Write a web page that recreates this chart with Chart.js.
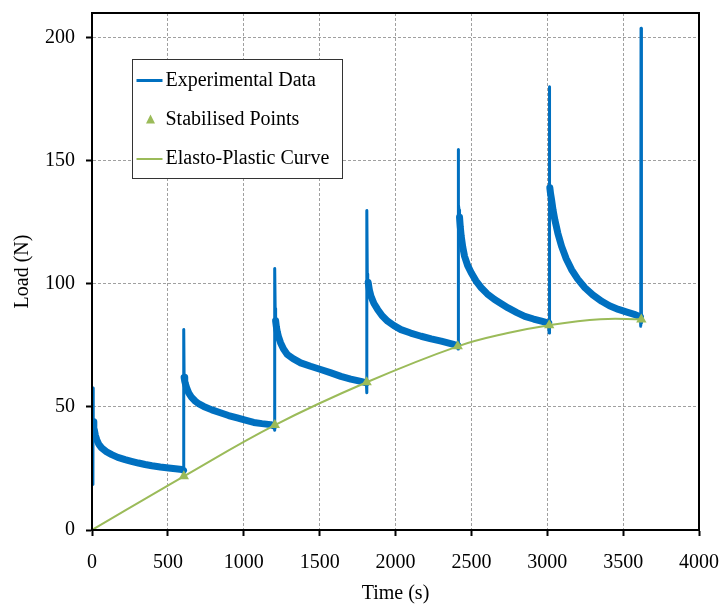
<!DOCTYPE html>
<html><head><meta charset="utf-8">
<script src="https://cdn.jsdelivr.net/npm/chart.js@4.4.1/dist/chart.umd.min.js"></script>
<style>html,body{margin:0;padding:0;background:#fff;}canvas{display:block;}</style>
</head><body>
<canvas id="c" width="720" height="606"></canvas>
<script>
// ---- data ----
const xTicks = [0, 500, 1000, 1500, 2000, 2500, 3000, 3500, 4000];
const yTicks = [0, 50, 100, 150, 200];

const expTime = [
  6, 7, 8, 12, 15, 22, 31, 45, 64, 95, 130, 170, 218, 260, 306, 350, 395, 450, 505, 550, 593, 603,
  604, 605, 607, 611, 615, 625, 637, 655, 681, 705, 736, 790, 846, 900, 957, 1010, 1066, 1120, 1177, 1200,
  1203, 1205, 1207, 1210, 1215, 1221, 1230, 1243, 1262, 1287, 1325, 1375, 1440, 1507, 1575, 1640, 1705, 1772, 1808,
  1810, 1812, 1814, 1817, 1820, 1828, 1838, 1858, 1882, 1912, 1948, 1990, 2036, 2100, 2169, 2235, 2301, 2345, 2389, 2410,
  2412, 2413, 2416, 2419, 2422, 2427, 2433, 2443, 2455, 2475, 2499, 2530, 2565, 2605, 2653, 2700, 2742, 2800, 2852, 2910, 2962, 3010,
  3012, 3013, 3015, 3017, 3022, 3028, 3038, 3050, 3070, 3094, 3125, 3160, 3200, 3248, 3300, 3359, 3410, 3469, 3525, 3579, 3614,
  3616, 3618, 3619, 3621, 3622
];
const expLoad = [
  18.5, 57.7, 44, 42, 40.8, 38.5, 36.7, 34.8, 33.3, 31.8, 30.6, 29.5, 28.6, 27.9, 27.2, 26.6, 26.1, 25.6, 25.2, 24.9, 24.6, 24.2,
  23, 81.4, 62, 60.5, 59.5, 57.5, 55.7, 54, 52.3, 51.2, 50.2, 48.8, 47.6, 46.5, 45.5, 44.6, 43.7, 43.2, 42.8, 42.3,
  40.5, 106.2, 90, 85, 82.5, 80.5, 78.3, 76, 73.5, 71.3, 69.6, 67.9, 66.5, 65.2, 63.8, 62.4, 61.3, 60.4, 59.8,
  55.7, 129.8, 104, 102, 100.5, 97.5, 95, 92, 89.6, 87, 84.8, 83, 81.4, 80, 78.7, 77.6, 76.7, 76, 75.3, 75,
  73.5, 154.6, 132, 130, 127, 123, 119.3, 115, 111.2, 107.5, 104.5, 101.2, 98.4, 95.9, 93.6, 91.8, 90.2, 88.3, 86.8, 85.7, 84.8, 84,
  80, 180, 145, 139, 136.5, 134.3, 130, 126, 120.5, 115.3, 110.2, 105.8, 102, 98.4, 95.5, 92.9, 91.1, 89.6, 88.5, 87.5, 86.5,
  82.8, 203.8, 84, 171, 111
];

const stabTime = [605, 1205, 1810, 2410, 3013, 3620];
const stabLoad = [21.8, 42.6, 60, 74.6, 83.2, 85.5];

const curveTime = [0, 605, 1205, 1810, 2410, 2740, 3013, 3350, 3620];
const curveLoad = [0, 21.8, 42.6, 60, 74.6, 80, 83.2, 85.6, 85.6];

const seriesNames = ['Experimental Data', 'Stabilised Points', 'Elasto-Plastic Curve'];
const BLUE = '#0070C0', GREEN = '#9BBB59';

const toXY = (xs, ys) => xs.map((x, i) => ({x: x, y: ys[i]}));

Chart.defaults.font.family = "'Liberation Serif', 'Times New Roman', serif";
Chart.defaults.font.size = 20;
Chart.defaults.color = '#000';

const boxLegend = {
  id: 'boxLegend',
  afterDraw(chart) {
    const ctx = chart.ctx, a = chart.chartArea;
    ctx.save();
    ctx.strokeStyle = '#000';
    ctx.lineWidth = 2;
    ctx.strokeRect(a.left, a.top, a.right - a.left, a.bottom - a.top);
    const bx = a.left + 40.5, by = a.top + 46.5, bw = 210, bh = 119;
    ctx.fillStyle = '#fff';
    ctx.fillRect(bx, by, bw, bh);
    ctx.strokeStyle = '#333';
    ctx.lineWidth = 1;
    ctx.strokeRect(bx, by, bw, bh);
    const rows = [by + 21, by + 60, by + 99.5];
    const ds = chart.data.datasets;
    ctx.font = "20px 'Liberation Serif', 'Times New Roman', serif";
    ctx.textBaseline = 'middle';
    ctx.textAlign = 'left';
    ds.forEach((d, i) => {
      const y = rows[i];
      if (d.showLine === false) {
        ctx.fillStyle = d.pointBackgroundColor;
        ctx.beginPath();
        ctx.moveTo(bx + 18, y - 5);
        ctx.lineTo(bx + 22.5, y + 4);
        ctx.lineTo(bx + 13.5, y + 4);
        ctx.closePath();
        ctx.fill();
      } else {
        ctx.strokeStyle = d.borderColor;
        ctx.lineWidth = i === 0 ? 3 : 2;
        ctx.beginPath();
        ctx.moveTo(bx + 4, y);
        ctx.lineTo(bx + 30, y);
        ctx.stroke();
      }
      ctx.fillStyle = '#000';
      ctx.fillText(d.label, bx + 33, y);
    });
    ctx.restore();
  }
};

new Chart(document.getElementById('c'), {
  type: 'line',
  data: {
    datasets: [
      {
        label: seriesNames[0],
        data: toXY(expTime, expLoad),
        borderColor: BLUE,
        backgroundColor: BLUE,
        borderWidth: 7,
        borderJoinStyle: 'round',
        borderCapStyle: 'round',
        pointRadius: 0,
        tension: 0,
        order: 3,
        segment: {
          borderWidth: c => Math.abs(c.p1.x - c.p0.x) < 0.5 ? 3 : 7
        }
      },
      {
        label: seriesNames[1],
        data: toXY(stabTime, stabLoad),
        showLine: false,
        pointStyle: 'triangle',
        pointRadius: 6,
        pointBackgroundColor: GREEN,
        pointBorderColor: GREEN,
        pointBorderWidth: 0,
        borderColor: GREEN,
        order: 1
      },
      {
        label: seriesNames[2],
        data: toXY(curveTime, curveLoad),
        borderColor: GREEN,
        backgroundColor: GREEN,
        borderWidth: 2,
        pointRadius: 0,
        tension: 0.4,
        order: 2
      }
    ]
  },
  options: {
    responsive: false,
    animation: false,
    devicePixelRatio: 1,
    layout: {padding: {left: 0, top: 13, right: 21, bottom: 0}},
    plugins: {legend: {display: false}, tooltip: {enabled: false}},
    scales: {
      x: {
        type: 'linear', min: 0, max: 4000,
        afterBuildTicks: s => { s.ticks = xTicks.map(v => ({value: v})); },
        afterFit: s => { s.height = 76; s.paddingLeft = 0; s.paddingRight = 0; },
        grid: {color: '#a0a0a0', lineWidth: 1, tickLength: 6, tickColor: '#000', tickWidth: 2, tickBorderDash: []},
        border: {display: true, color: '#000', width: 2, dash: [3, 2]},
        ticks: {padding: 15, maxRotation: 0, font: {size: 20}, color: '#000', callback: v => String(v)},
        title: {display: true, text: 'Time (s)', font: {size: 20}, color: '#000', padding: {top: 0, bottom: 0}}
      },
      y: {
        type: 'linear', min: 0, max: 210,
        afterBuildTicks: s => { s.ticks = yTicks.map(v => ({value: v})); },
        afterFit: s => { s.width = 92; s.paddingTop = 0; s.paddingBottom = 0; },
        grid: {color: '#a0a0a0', lineWidth: 1, tickLength: 6, tickColor: '#000', tickWidth: 2, tickBorderDash: []},
        border: {display: true, color: '#000', width: 2, dash: [3, 2]},
        ticks: {padding: 11, font: {size: 20}, color: '#000', callback: v => String(v)},
        title: {display: true, text: 'Load (N)', font: {size: 20}, color: '#000', padding: {top: 11, bottom: 0}}
      }
    }
  },
  plugins: [boxLegend]
});
</script>
</body></html>
